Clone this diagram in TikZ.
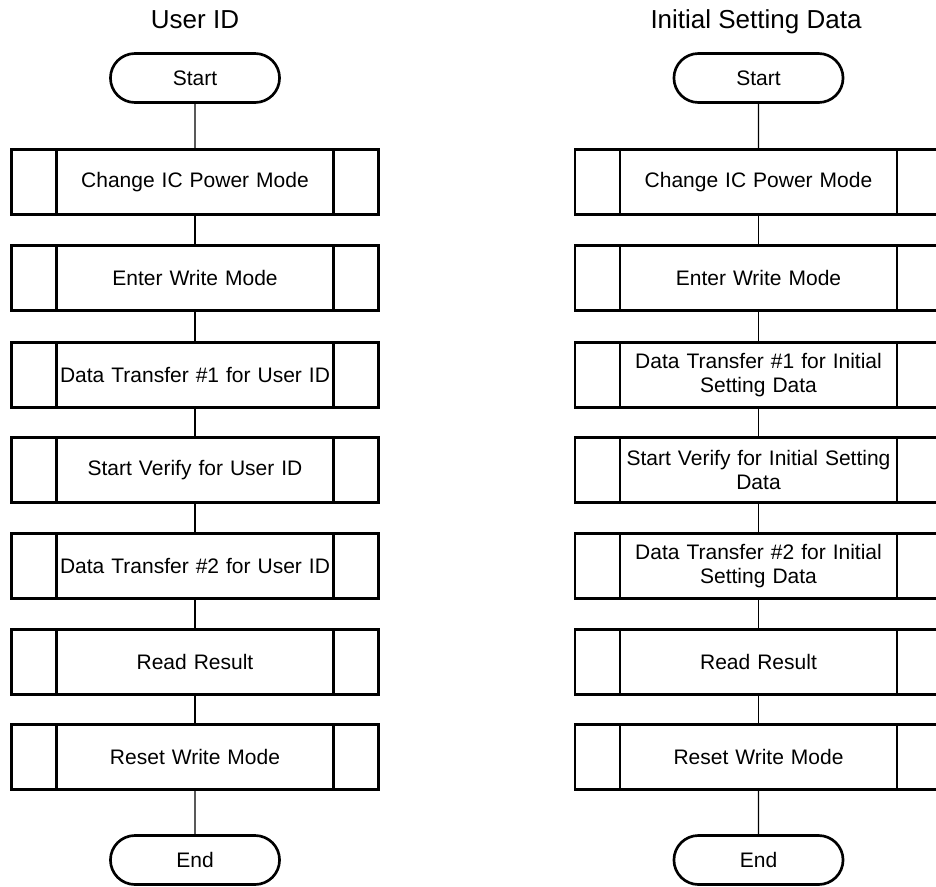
\documentclass[tikz,border=0pt]{standalone}
\usepackage{fontspec}
\setmainfont{Liberation Sans}
\usetikzlibrary{shapes.misc}
\newcommand\boxfont{\fontsize{15.75}{18}\selectfont}
\newcommand\titlefont{\fontsize{19.5}{23}\selectfont}
\begin{document}
\begin{tikzpicture}[x=0.75pt,y=-0.75pt,
  subproc/.style={draw, line width=2pt, outer sep=0pt, inner sep=0pt,
    minimum width=275.25pt, minimum height=48.75pt,
    align=center, text width=205pt, font=\boxfont,
    append after command={\pgfextra{
      \draw[line width=2pt] ([xshift=33.75pt]\tikzlastnode.north west) -- ([xshift=33.75pt]\tikzlastnode.south west);
      \draw[line width=2pt] ([xshift=-33.75pt]\tikzlastnode.north east) -- ([xshift=-33.75pt]\tikzlastnode.south east);
    }}},
  term/.style={draw, line width=2pt, rounded rectangle, outer sep=0pt,
    minimum width=133.5pt, minimum height=36.75pt, font=\boxfont},
  ttl/.style={font=\titlefont, anchor=base},
  conn/.style={line width=1pt}]
\useasboundingbox (0,0) rectangle (936,886);
\clip (0,0) rectangle (936,886);
% left column
\node[ttl] (lt) at (195,28) {User ID};
\node[term] (ls) at (195,78) {Start};
\node[subproc] (l1) at (195,182) {Change IC Power Mode};
\node[subproc] (l2) at (195,278) {Enter Write Mode};
\node[subproc] (l3) at (195,375) {Data Transfer \#1 for User ID};
\node[subproc] (l4) at (195,470) {Start Verify for User ID};
\node[subproc] (l5) at (195,566) {Data Transfer \#2 for User ID};
\node[subproc] (l6) at (195,662) {Read Result};
\node[subproc] (l7) at (195,757) {Reset Write Mode};
\node[term] (le) at (195,860) {End};
% right column
\node[ttl] (rt) at (756,28) {Initial Setting Data};
\node[term] (rs) at (758.5,78) {Start};
\node[subproc] (r1) at (758.5,182) {Change IC Power Mode};
\node[subproc] (r2) at (758.5,278) {Enter Write Mode};
\node[subproc] (r3) at (758.5,375) {Data Transfer \#1 for Initial\\Setting Data};
\node[subproc] (r4) at (758.5,470) {Start Verify for Initial Setting\\Data};
\node[subproc] (r5) at (758.5,566) {Data Transfer \#2 for Initial\\Setting Data};
\node[subproc] (r6) at (758.5,662) {Read Result};
\node[subproc] (r7) at (758.5,757) {Reset Write Mode};
\node[term] (re) at (758.5,860) {End};
% connectors
\foreach \c in {l,r}{
  \draw[conn] (\c s) -- (\c 1);
  \draw[conn] (\c 1) -- (\c 2);
  \draw[conn] (\c 2) -- (\c 3);
  \draw[conn] (\c 3) -- (\c 4);
  \draw[conn] (\c 4) -- (\c 5);
  \draw[conn] (\c 5) -- (\c 6);
  \draw[conn] (\c 6) -- (\c 7);
  \draw[conn] (\c 7) -- (\c e);
}
\end{tikzpicture}
\end{document}
